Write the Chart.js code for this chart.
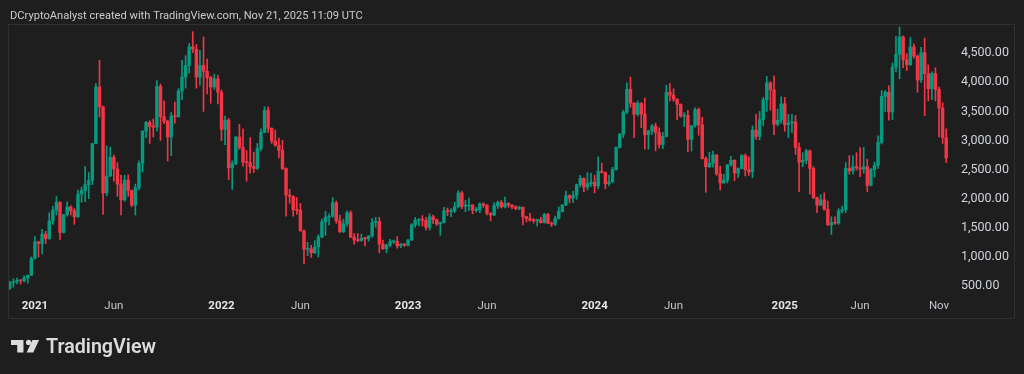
<!DOCTYPE html>
<html><head><meta charset="utf-8">
<script src="https://cdn.jsdelivr.net/npm/chart.js@4.4.1/dist/chart.umd.min.js"></script>
<style>html,body{margin:0;padding:0;background:#1e1e1e;overflow:hidden}canvas{display:block}</style>
</head><body>
<canvas id="c" width="1024" height="374"></canvas>
<script>
// ETH/USD weekly candles, first week starting 2020-11-16
const firstWeek = '2020-11-16';
const opens = [
461,560,575,595,590,638,683,975,1260,1230,
1390,1315,1615,1800,1935,1420,1725,1855,1790,1690,
2080,2140,2240,2310,2945,3920,3580,2100,2390,2710,
2510,2250,1980,2320,2140,1890,2190,2610,3160,3310,
3240,3230,3930,3410,3330,3060,3420,3410,3850,4090,
4290,4610,4570,4090,4290,4190,4080,3920,4060,3830,
3190,3350,2530,2600,3060,2880,2630,2620,2550,2520,
2860,3140,3520,3210,2990,2920,2830,2520,2060,2040,
1810,1800,1450,1130,1140,1070,1170,1340,1600,1680,
1700,1930,1620,1430,1570,1760,1340,1290,1280,1320,
1310,1360,1590,1610,1220,1140,1200,1260,1265,1190,
1220,1200,1290,1550,1630,1640,1630,1510,1690,1640,
1565,1590,1790,1780,1790,1860,2100,1870,1875,1890,
1800,1810,1910,1890,1750,1720,1880,1940,1860,1920,
1890,1860,1830,1850,1690,1660,1630,1620,1640,1590,
1730,1580,1560,1660,1780,1890,2050,2010,2060,2240,
2350,2200,2260,2280,2220,2470,2450,2260,2290,2500,
2880,3110,3490,3880,3640,3450,3640,3450,3100,3160,
3250,3140,2930,3070,3830,3780,3710,3620,3420,3430,
3020,3250,3530,3270,2690,2550,2610,2750,2430,2270,
2320,2580,2660,2440,2520,2740,2500,2460,3180,3070,
3360,3700,3990,3870,3280,3350,3630,3270,3300,3320,
2880,2630,2660,2820,2520,2020,1890,1980,1820,1550,
1590,1580,1790,1810,2520,2480,2550,2530,2510,2550,
2230,2500,2570,2970,3760,3830,3490,4260,4480,4780,
4390,4300,4610,4450,4040,4510,4150,3890,4150,3880,
3560,3050
];
const highs = [
580,622,635,600,675,690,1000,1350,1270,1475,
1440,1760,1870,2040,1950,1730,1945,1880,1830,2150,
2200,2550,2450,2950,3980,4380,3590,2910,2890,2750,
2620,2400,2400,2410,2150,2250,2650,3170,3330,3340,
3370,4030,3970,3680,3350,3480,3660,3890,4380,4460,
4670,4870,4650,4550,4780,4400,4100,4140,4120,3870,
3420,3380,2650,3070,3280,3200,2830,3050,2800,2950,
3200,3580,3580,3220,3180,3040,3000,2530,2160,2050,
2020,1920,1460,1250,1200,1280,1380,1650,1780,1740,
2020,1960,1720,1650,1790,1790,1400,1400,1390,1340,
1370,1660,1680,1680,1290,1220,1300,1290,1350,1230,
1230,1300,1570,1680,1660,1710,1680,1740,1720,1650,
1600,1850,1840,1830,1940,2140,2130,1970,2010,1900,
1850,1930,1930,1900,1760,1930,1960,1970,2030,1930,
1900,1880,1870,1860,1700,1750,1660,1650,1680,1750,
1750,1600,1700,1860,1900,2130,2070,2130,2250,2400,
2360,2450,2440,2400,2720,2610,2460,2400,2540,2890,
3120,3520,3990,4090,3650,3680,3650,3730,3180,3280,
3300,3220,3140,3950,3980,3890,3720,3630,3480,3520,
3260,3560,3560,3400,2720,2800,2820,2760,2560,2420,
2590,2730,2670,2530,2760,2770,2720,3250,3450,3500,
3740,4100,4010,4110,3540,3750,3740,3450,3450,3430,
2960,2790,2850,2840,2550,2030,2070,2100,1960,1690,
1690,1830,1870,2620,2740,2740,2790,2880,2880,2680,
2520,2630,3080,3860,3860,3940,4330,4790,4950,4800,
4490,4770,4660,4470,4600,4760,4300,4180,4250,3920,
3650,3200
];
const lows = [
440,480,535,535,570,550,680,960,1000,1050,
1230,1300,1560,1720,1300,1410,1700,1720,1560,1680,
1940,1950,2000,2240,2940,3400,1730,2050,2380,2300,
2040,1720,1960,2040,1860,1720,2150,2460,3050,2950,
3060,3160,3000,3290,2650,2740,3300,3400,3700,3900,
4160,4510,3900,3950,3500,3800,3640,3880,3630,3000,
2930,2330,2160,2580,2850,2560,2300,2440,2450,2500,
2820,3130,3140,2950,2900,2700,2500,1700,1920,1700,
1730,1440,880,1020,990,1060,1000,1330,1370,1550,
1680,1580,1420,1420,1530,1330,1220,1260,1270,1190,
1270,1340,1510,1070,1130,1070,1170,1230,1150,1160,
1180,1190,1280,1510,1530,1530,1460,1460,1570,1540,
1370,1580,1710,1690,1760,1850,1830,1780,1800,1740,
1770,1760,1850,1720,1620,1710,1830,1840,1840,1850,
1830,1810,1810,1550,1600,1610,1580,1530,1580,1580,
1570,1520,1540,1650,1770,1880,1930,1930,1990,2200,
2120,2150,2210,2100,2170,2440,2170,2220,2280,2490,
2870,3050,3460,3570,3050,3420,3220,2850,2850,3100,
2820,2870,2860,3060,3680,3670,3360,3400,3240,2810,
2820,3230,3090,2680,2110,2530,2540,2400,2150,2260,
2270,2560,2310,2360,2510,2390,2400,2360,3020,3010,
3250,3500,3520,3100,3250,3300,3160,3050,3140,2760,
2120,2550,2600,2080,2000,1760,1880,1800,1540,1385,
1560,1560,1750,1760,2420,2420,2490,2380,2440,2120,
2220,2370,2520,2940,3500,3350,3360,4180,4060,4250,
4200,4290,4410,3830,4000,3430,3680,3700,3680,3060,
2950,2620
];
const closes = [
560,575,595,590,638,683,975,1260,1230,1390,
1315,1615,1800,1935,1420,1725,1855,1790,1690,2080,
2140,2240,2310,2945,3920,3580,2100,2390,2710,2510,
2250,1980,2320,2140,1890,2190,2610,3160,3310,3240,
3230,3930,3410,3330,3060,3420,3410,3850,4090,4290,
4610,4570,4090,4290,4190,4080,3920,4060,3830,3190,
3350,2530,2600,3060,2880,2630,2620,2550,2520,2860,
3140,3520,3210,2990,2920,2830,2520,2060,2040,1810,
1800,1450,1130,1140,1070,1170,1340,1600,1680,1700,
1930,1620,1430,1570,1760,1340,1290,1280,1320,1310,
1360,1590,1610,1220,1140,1200,1260,1265,1190,1220,
1200,1290,1550,1630,1640,1630,1510,1690,1640,1565,
1590,1790,1780,1790,1860,2100,1870,1875,1890,1800,
1810,1910,1890,1750,1720,1880,1940,1860,1920,1890,
1860,1830,1850,1690,1660,1630,1620,1640,1590,1730,
1580,1560,1660,1780,1890,2050,2010,2060,2240,2350,
2200,2260,2280,2220,2470,2450,2260,2290,2500,2880,
3110,3490,3880,3640,3450,3640,3450,3100,3160,3250,
3140,2930,3070,3830,3780,3710,3620,3420,3430,3020,
3250,3530,3270,2690,2550,2610,2750,2430,2270,2320,
2580,2660,2440,2520,2740,2500,2460,3180,3070,3360,
3700,3990,3870,3280,3350,3630,3270,3300,3320,2880,
2630,2660,2820,2520,2020,1890,1980,1820,1550,1590,
1580,1790,1810,2520,2480,2550,2530,2510,2550,2230,
2500,2570,2970,3760,3830,3490,4260,4480,4780,4390,
4300,4610,4450,4040,4510,4150,3890,4150,3880,3560,
3050,2700
];
const tickDates = ['2021-01-04','2021-06-07','2022-01-03','2022-06-06','2023-01-02','2023-06-05','2024-01-01','2024-06-03','2025-01-06','2025-06-02','2025-11-03'];
const tickTexts = ['2021','Jun','2022','Jun','2023','Jun','2024','Jun','2025','Jun','Nov'];
const priceTicks = [500,1000,1500,2000,2500,3000,3500,4000,4500];
const titleText = 'DCryptoAnalyst created with TradingView.com, Nov 21, 2025 11:09 UTC';

const UP = '#089981', DOWN = '#f23645', BG = '#1e1e1e', TXT = '#d1d4dc';
const FONT = 'Roboto, "Noto Sans", sans-serif';

const weeks = Array.from({length: closes.length}, (_, i) =>
  new Date(Date.parse(firstWeek + 'T00:00:00Z') + i * 7 * 864e5).toISOString().slice(0, 10));
const tickAt = {};
tickDates.forEach((d, k) => { const i = weeks.indexOf(d); if (i >= 0) tickAt[i] = tickTexts[k]; });
const colors = closes.map((c, i) => c >= opens[i] ? UP : DOWN);
const isYearTick = (ctx) => {
  const lbl = ctx && ctx.tick && typeof ctx.tick.label === 'string' ? ctx.tick.label : tickAt[ctx.index];
  return typeof lbl === 'string' && /^\d{4}$/.test(lbl);
};

const decor = {
  id: 'decor',
  beforeDraw(chart) {
    const ctx = chart.ctx;
    ctx.save();
    ctx.fillStyle = BG;
    ctx.fillRect(0, 0, chart.width, chart.height);
    ctx.restore();
  },
  afterDraw(chart) {
    const ctx = chart.ctx;
    ctx.save();
    // frame
    ctx.strokeStyle = '#303030';
    ctx.lineWidth = 1;
    ctx.strokeRect(8.5, 24.5, 1006, 294);
    // title
    ctx.fillStyle = '#c9cbd1';
    ctx.textBaseline = 'alphabetic';
    ctx.font = '12px ' + FONT;
    let w = ctx.measureText(titleText).width;
    let fs = 12 * 353 / w;
    ctx.font = fs.toFixed(2) + 'px ' + FONT;
    ctx.fillText(titleText, 10, 18.5);
    // logo icon
    ctx.fillStyle = '#dcdcdc';
    const s = 0.78, ox = 11, oy = 340 - 4 * 0.7;
    const P = (x, y) => [ox + x * s, oy + y * 0.7];
    ctx.beginPath();
    let pts = [P(0,4),P(16,4),P(16,22),P(8,22),P(8,11),P(0,11)];
    ctx.moveTo(...pts[0]); pts.slice(1).forEach(p => ctx.lineTo(...p)); ctx.closePath(); ctx.fill();
    ctx.beginPath();
    const c = P(22.5, 7.5);
    ctx.arc(c[0], c[1], 2.6, 0, Math.PI * 2); ctx.fill();
    ctx.beginPath();
    pts = [P(27.5,4),P(36,4),P(28.5,22),P(20,22)];
    ctx.moveTo(...pts[0]); pts.slice(1).forEach(p => ctx.lineTo(...p)); ctx.closePath(); ctx.fill();
    // logo text
    ctx.font = '600 18px ' + FONT;
    w = ctx.measureText('TradingView').width;
    fs = 18 * 110 / w;
    ctx.font = '600 ' + fs.toFixed(2) + 'px ' + FONT;
    ctx.fillText('TradingView', 46, 352.5);
    ctx.restore();
  }
};

new Chart(document.getElementById('c'), {
  type: 'bar',
  data: {
    labels: weeks,
    datasets: [
      { label: 'body', data: opens.map((o, i) => [o, closes[i]]), backgroundColor: colors,
        barThickness: 2.8, minBarLength: 1, grouped: false, order: 0, borderWidth: 0 },
      { label: 'wick', data: lows.map((l, i) => [l, highs[i]]), backgroundColor: colors,
        barThickness: 1, grouped: false, order: 1, borderWidth: 0 }
    ]
  },
  options: {
    responsive: false,
    animation: false,
    events: [],
    layout: { padding: { left: 8, right: 10, top: 25, bottom: 56 } },
    plugins: { legend: { display: false }, tooltip: { enabled: false }, title: { display: false } },
    scales: {
      x: {
        type: 'category', offset: true,
        grid: { display: false, drawTicks: false }, border: { display: false },
        ticks: {
          autoSkip: false, maxRotation: 0, minRotation: 0, padding: 3,
          color: (ctx) => isYearTick(ctx) ? '#e6e6e6' : '#c3c5cb',
          font: (ctx) => ({ family: FONT, size: 11.5, weight: isYearTick(ctx) ? 'bold' : 'normal' }),
          callback: (v, i) => (tickAt[i] !== undefined ? tickAt[i] : null)
        },
        afterFit: (s) => { s.height = 22; }
      },
      y: {
        position: 'right', min: 328, max: 4985,
        grid: { display: false, drawTicks: false }, border: { display: false },
        afterBuildTicks: (s) => { s.ticks = priceTicks.map(v => ({ value: v })); },
        afterFit: (s) => { s.width = 66; },
        ticks: {
          padding: 13, color: TXT, font: { family: FONT, size: 12.5 },
          callback: (v) => Number(v).toLocaleString('en-US', { minimumFractionDigits: 2, maximumFractionDigits: 2 })
        }
      }
    }
  },
  plugins: [decor]
});
</script>
</body></html>
